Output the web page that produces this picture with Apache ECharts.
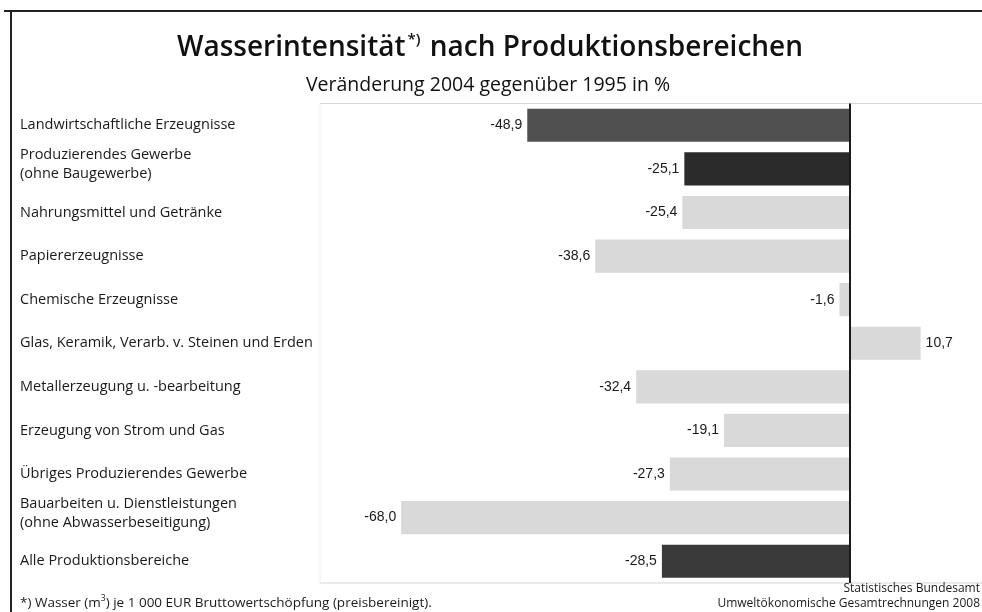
<!DOCTYPE html>
<html>
<head>
<meta charset="utf-8">
<script src="https://cdn.jsdelivr.net/npm/echarts@6/dist/echarts.min.js"></script>
<style>
html,body{margin:0;padding:0;background:#fff;}
#chart{width:982px;height:612px;}
</style>
</head>
<body>
<div id="chart"></div>
<script>
const titleMain = 'Wasserintensität';
const titleRest = ' nach Produktionsbereichen';
const subtitle = 'Veränderung 2004 gegenüber 1995 in %';
const categories = [
  'Landwirtschaftliche Erzeugnisse',
  'Produzierendes Gewerbe\n(ohne Baugewerbe)',
  'Nahrungsmittel und Getränke',
  'Papiererzeugnisse',
  'Chemische Erzeugnisse',
  'Glas, Keramik, Verarb. v. Steinen und Erden',
  'Metallerzeugung u. -bearbeitung',
  'Erzeugung von Strom und Gas',
  'Übriges Produzierendes Gewerbe',
  'Bauarbeiten u. Dienstleistungen\n(ohne Abwasserbeseitigung)',
  'Alle Produktionsbereiche'
];
const values = [-48.9, -25.1, -25.4, -38.6, -1.6, 10.7, -32.4, -19.1, -27.3, -68.0, -28.5];
const footnote = ['*) Wasser (m', '3', ') je 1 000 EUR Bruttowertschöpfung (preisbereinigt).'];
const source = ['Statistisches Bundesamt', 'Umweltökonomische Gesamtrechnungen 2008'];

// styling (kept separate from data)
const darkColors = {0: '#505050', 1: '#2b2b2b', 10: '#3a3a3a'};
const lightColor = '#d9d9d9';
const uiFont = '"Open Sans", "Noto Sans", sans-serif';
const numFont = '"Liberation Sans", Arial, sans-serif';
const catSize = 14.5;
const W = 982, H = 612;
const gLeft = 322, gTop = 103.5, gBottom = 29, gRight = -2;

const chart = echarts.init(document.getElementById('chart'), null, {renderer: 'canvas'});

const fmt = v => v.toFixed(1).replace('.', ',');
const frameColor = '#d6d6d6';

chart.setOption({
  animation: false,
  backgroundColor: '#ffffff',
  grid: {left: gLeft, right: gRight, top: gTop, bottom: gBottom, show: false},
  xAxis: {
    type: 'value', min: -80, max: 20,
    axisLine: {show: false}, axisTick: {show: false}, axisLabel: {show: false},
    splitLine: {show: false}
  },
  yAxis: {
    type: 'category', inverse: true, data: categories,
    axisLine: {show: false}, axisTick: {show: false},
    axisLabel: {
      align: 'left', margin: gLeft - 20, fontFamily: uiFont, fontSize: catSize,
      color: '#1a1a1a', lineHeight: 19,
      formatter: function (v) {
        const parts = v.split('\n');
        if (parts.length === 1) return v;
        return '{a|' + parts[0] + '}\n{a|' + parts[1] + '}\n{e| }';
      },
      rich: {
        a: {fontFamily: uiFont, fontSize: catSize, color: '#1a1a1a', lineHeight: 19},
        e: {fontSize: 1, lineHeight: 9}
      }
    }
  },
  series: [{
    type: 'bar',
    barCategoryGap: '24%',
    data: values.map((v, i) => ({
      value: v,
      itemStyle: {color: darkColors[i] || lightColor},
      label: {position: v < 0 ? 'left' : 'right'}
    })),
    label: {
      show: true, distance: 5, fontFamily: numFont, fontSize: 14, color: '#1a1a1a',
      formatter: p => fmt(p.value)
    },
    markLine: {
      silent: true, symbol: 'none', animation: false,
      lineStyle: {color: '#1a1a1a', width: 2, type: 'solid'},
      label: {show: false},
      data: [{xAxis: 0}]
    }
  }],
  graphic: [
    {type: 'line', shape: {x1: 4, y1: 11, x2: W, y2: 11}, style: {stroke: '#222', lineWidth: 2}},
    {type: 'line', shape: {x1: 11, y1: 11, x2: 11, y2: H}, style: {stroke: '#222', lineWidth: 2}},
    {type: 'line', shape: {x1: gLeft - 2, y1: gTop, x2: W, y2: gTop}, style: {stroke: frameColor, lineWidth: 1}},
    {type: 'line', shape: {x1: gLeft - 2, y1: H - gBottom, x2: W, y2: H - gBottom}, style: {stroke: frameColor, lineWidth: 1}},
    {type: 'line', shape: {x1: gLeft - 2, y1: gTop, x2: gLeft - 2, y2: H - gBottom}, style: {stroke: '#eeeeee', lineWidth: 1}},
    {
      type: 'text', x: 490, y: 48,
      style: {
        text: '{t|' + titleMain + '}{s|*)}{t|' + titleRest + '}',
        align: 'center', verticalAlign: 'middle',
        rich: {
          t: {fontFamily: uiFont, fontSize: 28, fontWeight: 600, fill: '#111'},
          s: {fontFamily: uiFont, fontSize: 15, fontWeight: 600, fill: '#111', padding: [0, 2, 16, 2]}
        }
      }
    },
    {
      type: 'text', x: 488, y: 85,
      style: {text: subtitle, align: 'center', verticalAlign: 'middle',
        fontFamily: uiFont, fontSize: 19.5, fill: '#111'}
    },
    {
      type: 'text', x: 20, y: 603,
      style: {
        text: footnote[0] + '{sup|' + footnote[1] + '}' + footnote[2],
        align: 'left', verticalAlign: 'middle',
        fontFamily: uiFont, fontSize: 13.5, fill: '#1a1a1a',
        rich: {sup: {fontFamily: uiFont, fontSize: 8.5, fill: '#1a1a1a', padding: [0, 0, 9, 0]}}
      }
    },
    {
      type: 'text', x: 980, y: 589,
      style: {text: source[0], align: 'right', verticalAlign: 'middle',
        fontFamily: uiFont, fontSize: 12, fill: '#1a1a1a'}
    },
    {
      type: 'text', x: 980, y: 604,
      style: {text: source[1], align: 'right', verticalAlign: 'middle',
        fontFamily: uiFont, fontSize: 12, fill: '#1a1a1a'}
    }
  ]
});
</script>
</body>
</html>
